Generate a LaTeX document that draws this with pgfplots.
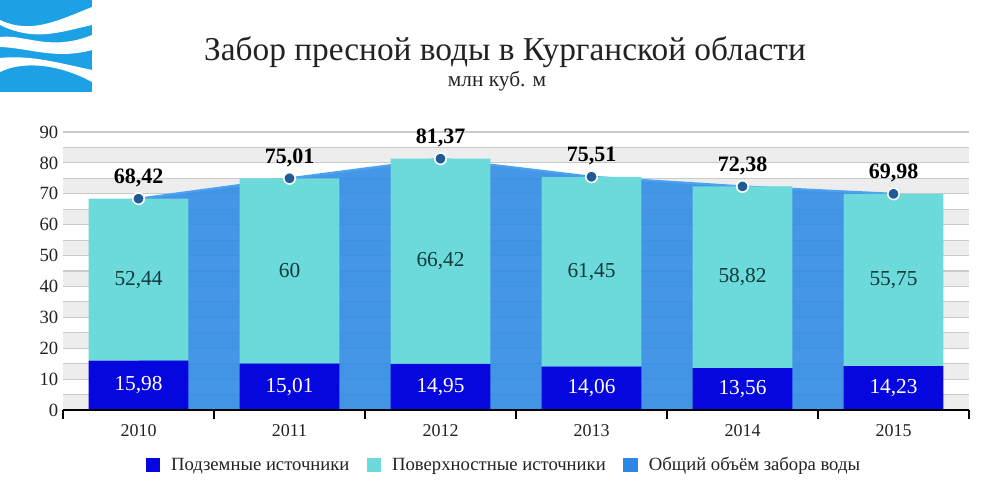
\documentclass[border=0pt]{standalone}
\usepackage{fontspec}
\setmainfont{Liberation Serif}
\usepackage{pgfplots}
\usepackage{pgfplotstable}
\pgfplotsset{compat=1.18}

\definecolor{groundc}{HTML}{0606DE}
\definecolor{surfacec}{HTML}{6CD9DB}
\definecolor{areab}{HTML}{2B88E4}
\definecolor{areatop}{HTML}{4AA3F0}
\definecolor{dotc}{HTML}{215B95}
\definecolor{bandc}{HTML}{EDEDED}
\definecolor{gridc}{HTML}{CACACA}
\definecolor{logob}{HTML}{1DA1E6}
\definecolor{labteal}{HTML}{10393D}
\definecolor{txt}{HTML}{222222}

\pgfplotstableread{
x year ground surface total
0 2010 15.98 52.44 68.42
1 2011 15.01 60 75.01
2 2012 14.95 66.42 81.37
3 2013 14.06 61.45 75.51
4 2014 13.56 58.82 72.38
5 2015 14.23 55.75 69.98
}\datatable

\pgfplotsset{
  base/.style={
    at={(47.25pt,67.5pt)}, anchor=south west,
    scale only axis, width=679.5pt, height=208.5pt,
    xmin=-0.5, xmax=5.5, ymin=0, ymax=90,
    /pgf/number format/assume math mode=true,
    /pgf/number format/use comma,
  }
}

\begin{document}
\begin{tikzpicture}
\useasboundingbox (0,0) rectangle (750pt,375pt);

% logo
\begin{scope}[shift={(0pt,375pt)}, x=0.75pt, y=-0.75pt]
  \fill[logob] (0,0) rectangle (92,92);
  \begin{scope}
    \clip (0,0) rectangle (92,92);
    \fill[white] (0,20) .. controls (30,34) and (55,22) .. (92,7) -- (92,25) .. controls (60,32) and (35,42) .. (0,25) -- cycle;
    \fill[white] (0,37) .. controls (25,34) and (50,52) .. (92,35) -- (92,50) .. controls (55,60) and (30,48) .. (0,47) -- cycle;
    \fill[white] (0,58) .. controls (30,55) and (55,62) .. (92,70) -- (92,82) .. controls (55,62) and (20,62) .. (0,72) -- cycle;
  \end{scope}
\end{scope}

% titles
\node[text=txt] at (378.75pt,336pt) {\fontsize{25}{30}\selectfont Забор пресной воды в Курганской области};
\node[text=txt] at (372.75pt,314pt) {\fontsize{16}{18}\selectfont млн куб. м};

% axis 0: bands
\begin{axis}[base, hide axis]
  \addplot[draw=none, mark=none] coordinates {(0,0) (5,90)};
  \fill[bandc] (axis cs:-0.5,0) rectangle (axis cs:5.5,5);
  \fill[bandc] (axis cs:-0.5,10) rectangle (axis cs:5.5,15);
  \fill[bandc] (axis cs:-0.5,20) rectangle (axis cs:5.5,25);
  \fill[bandc] (axis cs:-0.5,30) rectangle (axis cs:5.5,35);
  \fill[bandc] (axis cs:-0.5,40) rectangle (axis cs:5.5,45);
  \fill[bandc] (axis cs:-0.5,50) rectangle (axis cs:5.5,55);
  \fill[bandc] (axis cs:-0.5,60) rectangle (axis cs:5.5,65);
  \fill[bandc] (axis cs:-0.5,70) rectangle (axis cs:5.5,75);
  \fill[bandc] (axis cs:-0.5,80) rectangle (axis cs:5.5,85);
\end{axis}

% axis 1: grid, area
\begin{axis}[base,
  axis line style={draw=none},
  xtick=\empty,
  ytick={0,10,...,90}, minor ytick={5,15,...,85},
  ymajorgrids, yminorgrids,
  major grid style={gridc, line width=0.8pt},
  minor grid style={gridc, line width=0.8pt},
  major tick length=0pt, minor tick length=0pt,
  yticklabel style={font=\fontsize{14}{16}\selectfont, text=txt},
]
\addplot[fill=areab, draw=none, fill opacity=0.88] table[x=x, y=total] {\datatable} \closedcycle;
\addplot[areatop, line width=1.6pt, mark=none] table[x=x, y=total] {\datatable};
\end{axis}

% axis 2: stacked bars
\begin{axis}[base, hide axis, ybar stacked, bar width=0.662,
  legend style={at={(0.487,-0.198)}, anchor=center, legend columns=3,
    draw=none, fill=none, font=\fontsize{14}{16}\selectfont, text=txt,
    /tikz/every even column/.append style={column sep=11pt}},
  legend cell align=left,
]
\addplot[fill=groundc, draw=none,
  legend image code/.code={\fill[groundc] (0pt,-5pt) rectangle (10.5pt,5pt); \path (17pt,0pt);}]
  table[x=x, y=ground] {\datatable};
\addplot[fill=surfacec, draw=none,
  legend image code/.code={\fill[surfacec] (0pt,-5pt) rectangle (10.5pt,5pt); \path (17pt,0pt);}]
  table[x=x, y=surface] {\datatable};
\addlegendimage{legend image code/.code={\fill[areab] (0pt,-5pt) rectangle (10.5pt,5pt); \path (17pt,0pt);}}
\legend{Подземные источники, Поверхностные источники, Общий объём забора воды}
\end{axis}

% axis 3: x axis, markers, labels
\begin{axis}[base,
  axis x line*=bottom, axis y line=none,
  x axis line style={black, line width=0.9pt, -},
  xtick={0,...,5}, xticklabels={2010,2011,2012,2013,2014,2015},
  minor xtick={-0.5,0.5,...,5.5},
  major tick length=0pt, minor tick length=7pt, tick align=outside,
  minor tick style={black, line width=0.9pt},
  ytick=\empty,
  xticklabel style={font=\fontsize{13.5}{15}\selectfont, text=txt, yshift=-7.5pt},
  clip=false,
]
\addplot[draw=none, mark=none, nodes near coords, point meta=explicit,
  nodes near coords style={font=\fontsize{16}{18}\selectfont, text=white, anchor=center}]
  table[x=x, y expr=\thisrow{ground}/2, meta=ground] {\datatable};
\addplot[draw=none, mark=none, nodes near coords, point meta=explicit,
  nodes near coords style={font=\fontsize{16}{18}\selectfont, text=labteal, anchor=center}]
  table[x=x, y expr=\thisrow{ground}+\thisrow{surface}/2, meta=surface] {\datatable};
\addplot[only marks, mark=*, mark size=4.3pt,
  mark options={fill=dotc, draw=white, line width=1.2pt},
  nodes near coords, point meta=explicit,
  nodes near coords style={font=\bfseries\fontsize{16.5}{18}\selectfont, text=black, anchor=center, yshift=15.5pt}]
  table[x=x, y=total, meta=total] {\datatable};
\end{axis}
\end{tikzpicture}
\end{document}
